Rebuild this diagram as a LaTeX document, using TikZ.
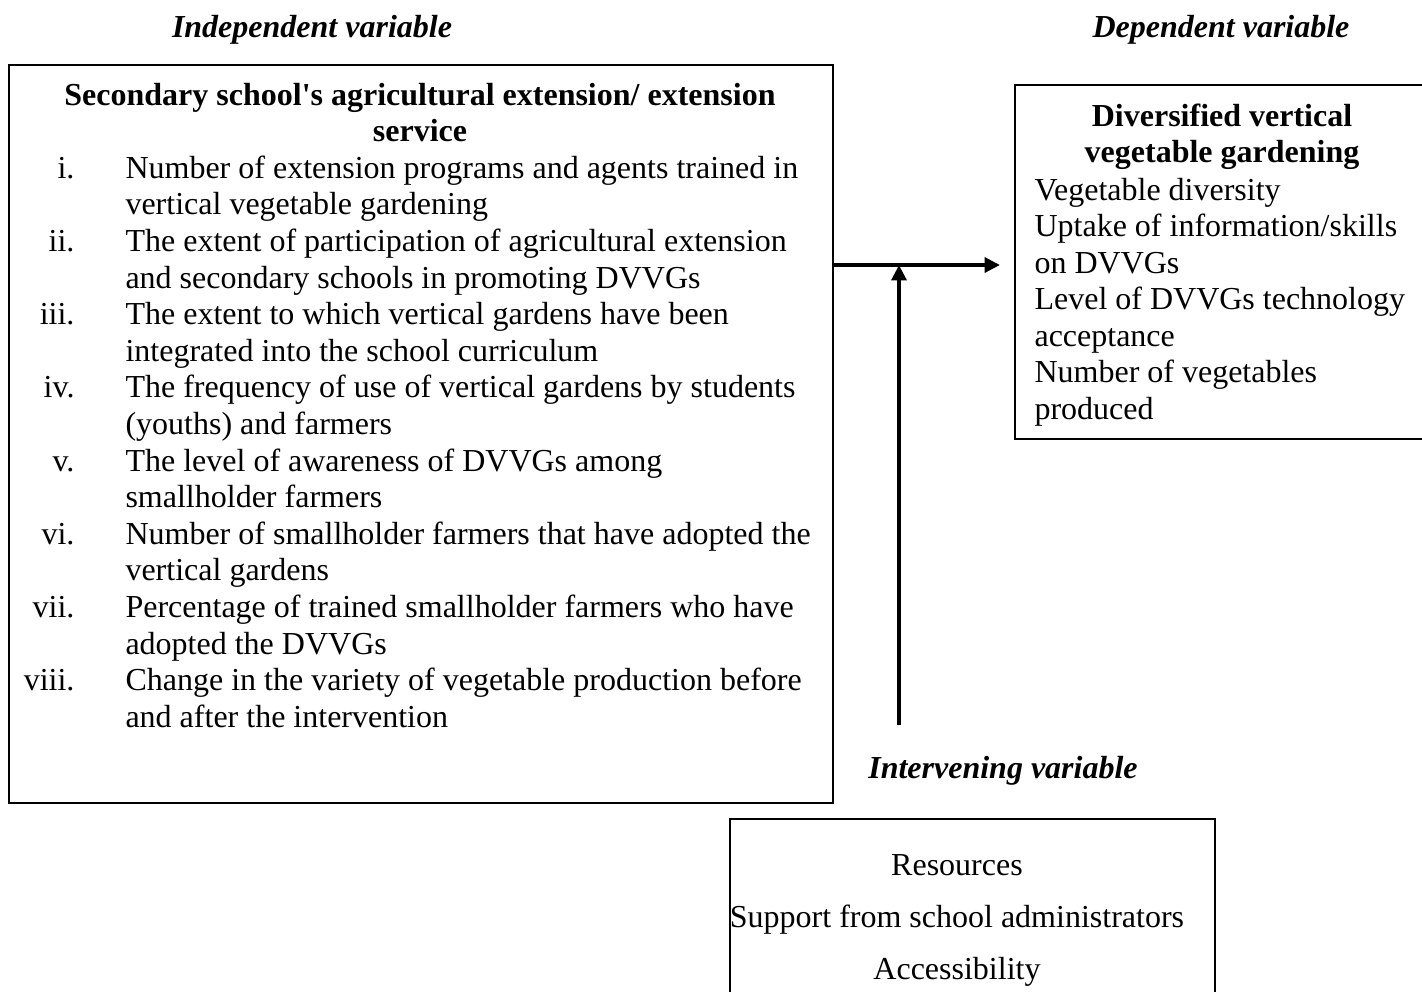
\documentclass[tikz,border=0pt]{standalone}
\usepackage{fontspec}
\setmainfont{Liberation Serif}
\usetikzlibrary{arrows.meta}
\newcommand\pxu{0.375pt}
\tikzset{
  box/.style={draw, line width=0.75pt, inner sep=0pt, anchor=north west},
  txt/.style={inner sep=0pt, font=\fontsize{12}{13.7}\selectfont},
  head/.style={txt, font=\fontsize{12}{13.7}\selectfont\bfseries\itshape},
  arr/.style={-{Triangle[length=5.8pt,width=5.6pt]}, line width=1.4pt}
}
\begin{document}
\begin{tikzpicture}[x=0.375pt,y=-0.375pt]
    \path[use as bounding box, clip] (0,0) rectangle (1422,991);
    % headings
    \node[head, anchor=base] (indlab) at (312,37) {Independent variable};
    \node[head, anchor=base] (deplab) at (1221,37) {Dependent variable};
    \node[head, anchor=base] (intlab) at (1003,778) {Intervening variable};
    % boxes
    \node[box, minimum width=824*\pxu, minimum height=738*\pxu] (indep) at (8,64) {};
    \node[box, minimum width=416*\pxu, minimum height=354*\pxu] (dep) at (1014,84) {};
    \node[box, minimum width=485*\pxu, minimum height=250*\pxu] (interv) at (729,818) {};
    % independent variable
    \node[txt, anchor=base, font=\fontsize{12}{13.7}\selectfont\bfseries] (indt1) at (420,105)
        {Secondary school\textquotesingle s agricultural extension/ extension};
    \node[txt, anchor=base, font=\fontsize{12}{13.7}\selectfont\bfseries] (indt2) at (420,141.6) {service};
    \foreach \n/\a/\b [count=\k from 0] in {
        i./Number of extension programs and agents trained in/vertical vegetable gardening,
        ii./The extent of participation of agricultural extension/and secondary schools in promoting DVVGs,
        iii./The extent to which vertical gardens have been/integrated into the school curriculum,
        iv./The frequency of use of vertical gardens by students/(youths) and farmers,
        v./The level of awareness of DVVGs among/smallholder farmers,
        vi./Number of smallholder farmers that have adopted the/vertical gardens,
        vii./Percentage of trained smallholder farmers who have/adopted the DVVGs,
        viii./Change in the variety of vegetable production before/and after the intervention}{
      \node[txt, anchor=base east] (num\k) at (75,178.2+73.2*\k) {\n};
      \node[txt, anchor=base west] (ita\k) at (125,178.2+73.2*\k) {\a};
      \node[txt, anchor=base west] (itb\k) at (125,214.8+73.2*\k) {\b};
    }
    % dependent variable
    \node[txt, anchor=base, font=\fontsize{12}{13.7}\selectfont\bfseries] (dept1) at (1222,126) {Diversified vertical};
    \node[txt, anchor=base, font=\fontsize{12}{13.7}\selectfont\bfseries] (dept2) at (1222,162) {vegetable gardening};
    \foreach \t [count=\k from 0] in {Vegetable diversity, Uptake of information/skills, on DVVGs,
        Level of DVVGs technology, acceptance, Number of vegetables, produced}{
      \node[txt, anchor=base west] (dep\k) at (1034,200+36.5*\k) {\t};
    }
    % intervening variable
    \foreach \t [count=\k from 0] in {Resources, Support from school administrators, Accessibility}{
      \node[txt, anchor=base] (int\k) at (957,875+52*\k) {\t};
    }
    % arrows
    \coordinate (jn) at (899,265);
    \coordinate (vbase) at (899,725);
    \draw[arr, shorten >=14*\pxu] (indep.east |- jn) -- (dep.west |- jn);
    \draw[arr] (vbase) -- (jn);
\end{tikzpicture}
\end{document}
